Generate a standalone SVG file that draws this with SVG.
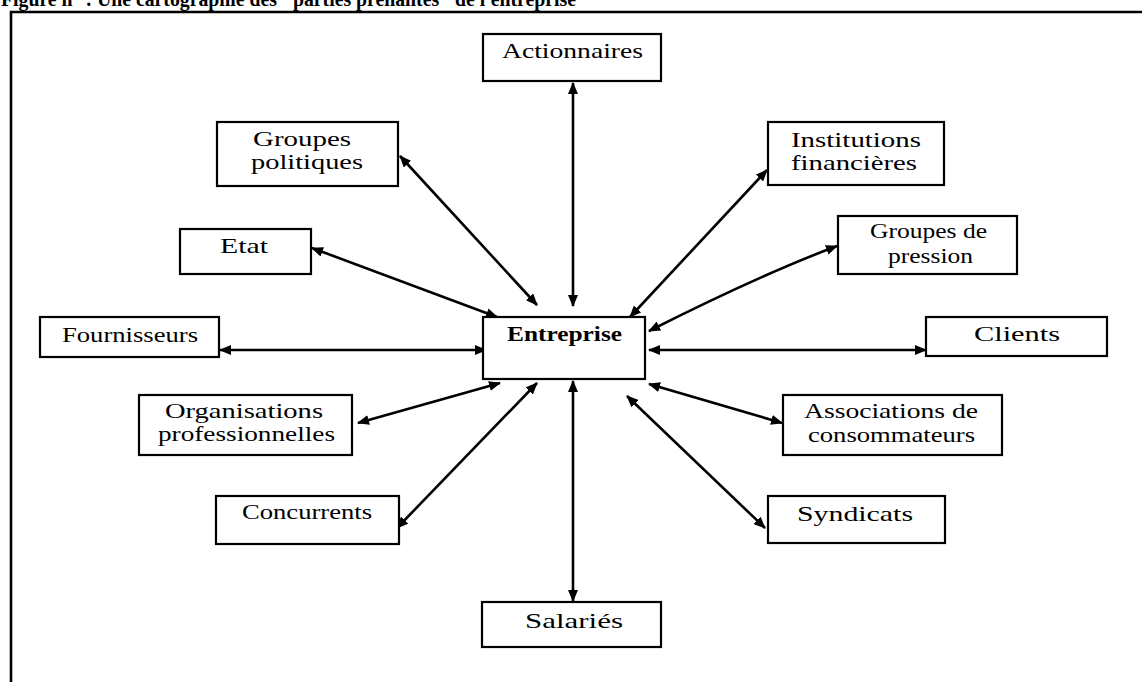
<svg xmlns="http://www.w3.org/2000/svg" width="1142" height="682" viewBox="0 0 1142 682">
  <style>
    .box { fill: #fff; stroke: #000; stroke-width: 2.2; }
    .lbl { font-family: "Liberation Serif", "DejaVu Serif", serif; font-size: 22px; fill: #000; }
    .two { font-size: 21px; }
    .bold { font-weight: bold; }
    .link { fill: none; stroke: #000; stroke-width: 2.6; marker-start: url(#head); marker-end: url(#head); }
    .frame { fill: none; stroke: #000; stroke-width: 2.6; }
  </style>
  <defs>
    <marker id="head" viewBox="0 0 12 10" refX="11" refY="5" markerWidth="12" markerHeight="10" markerUnits="userSpaceOnUse" orient="auto-start-reverse">
      <path d="M0,0 L12,5 L0,10 Z" fill="#000"/>
    </marker>
  </defs>
  <rect width="1142" height="682" fill="#fff"/>

  <!-- caption, running off the top edge -->
  <text x="1" y="6" class="lbl bold" font-size="20" textLength="575" lengthAdjust="spacingAndGlyphs">Figure n° : Une cartographie des "parties prenantes" de l'entreprise</text>

  <!-- outer frame -->
  <path class="frame" d="M11,682 L11,12 L1142,12"/>

  <!-- connectors -->
  <g id="connectors">
    <line class="link" x1="573" y1="83" x2="573" y2="306"/>
    <line class="link" x1="400" y1="156" x2="537" y2="305"/>
    <line class="link" x1="312" y1="248" x2="497" y2="317"/>
    <line class="link" x1="220" y1="350" x2="486" y2="350"/>
    <line class="link" x1="358" y1="423" x2="500" y2="383"/>
    <line class="link" x1="397" y1="528" x2="537" y2="383"/>
    <line class="link" x1="573" y1="381" x2="573" y2="601"/>
    <line class="link" x1="627" y1="396" x2="765" y2="528"/>
    <line class="link" x1="649" y1="384" x2="782" y2="423"/>
    <line class="link" x1="649" y1="350" x2="926" y2="350"/>
    <path class="link" d="M649,331 Q760,275 837,246"/>
    <line class="link" x1="630" y1="317" x2="767" y2="170"/>
  </g>

  <g id="entreprise">
    <rect class="box" x="483" y="317" width="162" height="62"/>
    <text class="lbl bold" x="507" y="341" textLength="115" lengthAdjust="spacingAndGlyphs">Entreprise</text>
  </g>

  <g id="actionnaires">
    <rect class="box" x="483" y="34" width="178" height="47"/>
    <text class="lbl" x="502" y="58" textLength="141" lengthAdjust="spacingAndGlyphs">Actionnaires</text>
  </g>

  <g id="groupes-politiques">
    <rect class="box" x="217" y="122" width="181" height="64"/>
    <text class="lbl two" x="253" y="146" textLength="98" lengthAdjust="spacingAndGlyphs">Groupes</text>
    <text class="lbl two" x="251" y="169" textLength="112" lengthAdjust="spacingAndGlyphs">politiques</text>
  </g>

  <g id="institutions-financieres">
    <rect class="box" x="768" y="122" width="176" height="63"/>
    <text class="lbl two" x="791" y="147" textLength="130" lengthAdjust="spacingAndGlyphs">Institutions</text>
    <text class="lbl two" x="791" y="170" textLength="126" lengthAdjust="spacingAndGlyphs">financières</text>
  </g>

  <g id="groupes-pression">
    <rect class="box" x="838" y="216" width="179" height="58"/>
    <text class="lbl two" x="870" y="238" textLength="117" lengthAdjust="spacingAndGlyphs">Groupes de</text>
    <text class="lbl two" x="888" y="263" textLength="85" lengthAdjust="spacingAndGlyphs">pression</text>
  </g>

  <g id="etat">
    <rect class="box" x="180" y="229" width="131" height="45"/>
    <text class="lbl" x="220" y="253" textLength="48" lengthAdjust="spacingAndGlyphs">Etat</text>
  </g>

  <g id="fournisseurs">
    <rect class="box" x="40" y="317" width="179" height="40"/>
    <text class="lbl" x="62" y="342" textLength="136" lengthAdjust="spacingAndGlyphs">Fournisseurs</text>
  </g>

  <g id="organisations-professionnelles">
    <rect class="box" x="139" y="395" width="213" height="60"/>
    <text class="lbl two" x="165" y="418" textLength="158" lengthAdjust="spacingAndGlyphs">Organisations</text>
    <text class="lbl two" x="158" y="441" textLength="177" lengthAdjust="spacingAndGlyphs">professionnelles</text>
  </g>

  <g id="concurrents">
    <rect class="box" x="216" y="496" width="183" height="48"/>
    <text class="lbl" x="242" y="519" textLength="130" lengthAdjust="spacingAndGlyphs">Concurrents</text>
  </g>

  <g id="salaries">
    <rect class="box" x="482" y="602" width="179" height="45"/>
    <text class="lbl" x="525" y="628" textLength="98" lengthAdjust="spacingAndGlyphs">Salariés</text>
  </g>

  <g id="clients">
    <rect class="box" x="926" y="317" width="181" height="39"/>
    <text class="lbl" x="974" y="341" textLength="86" lengthAdjust="spacingAndGlyphs">Clients</text>
  </g>

  <g id="associations-consommateurs">
    <rect class="box" x="783" y="395" width="219" height="60"/>
    <text class="lbl two" x="804" y="418" textLength="174" lengthAdjust="spacingAndGlyphs">Associations de</text>
    <text class="lbl two" x="808" y="442" textLength="167" lengthAdjust="spacingAndGlyphs">consommateurs</text>
  </g>

  <g id="syndicats">
    <rect class="box" x="768" y="496" width="177" height="47"/>
    <text class="lbl" x="797" y="521" textLength="116" lengthAdjust="spacingAndGlyphs">Syndicats</text>
  </g>
</svg>
